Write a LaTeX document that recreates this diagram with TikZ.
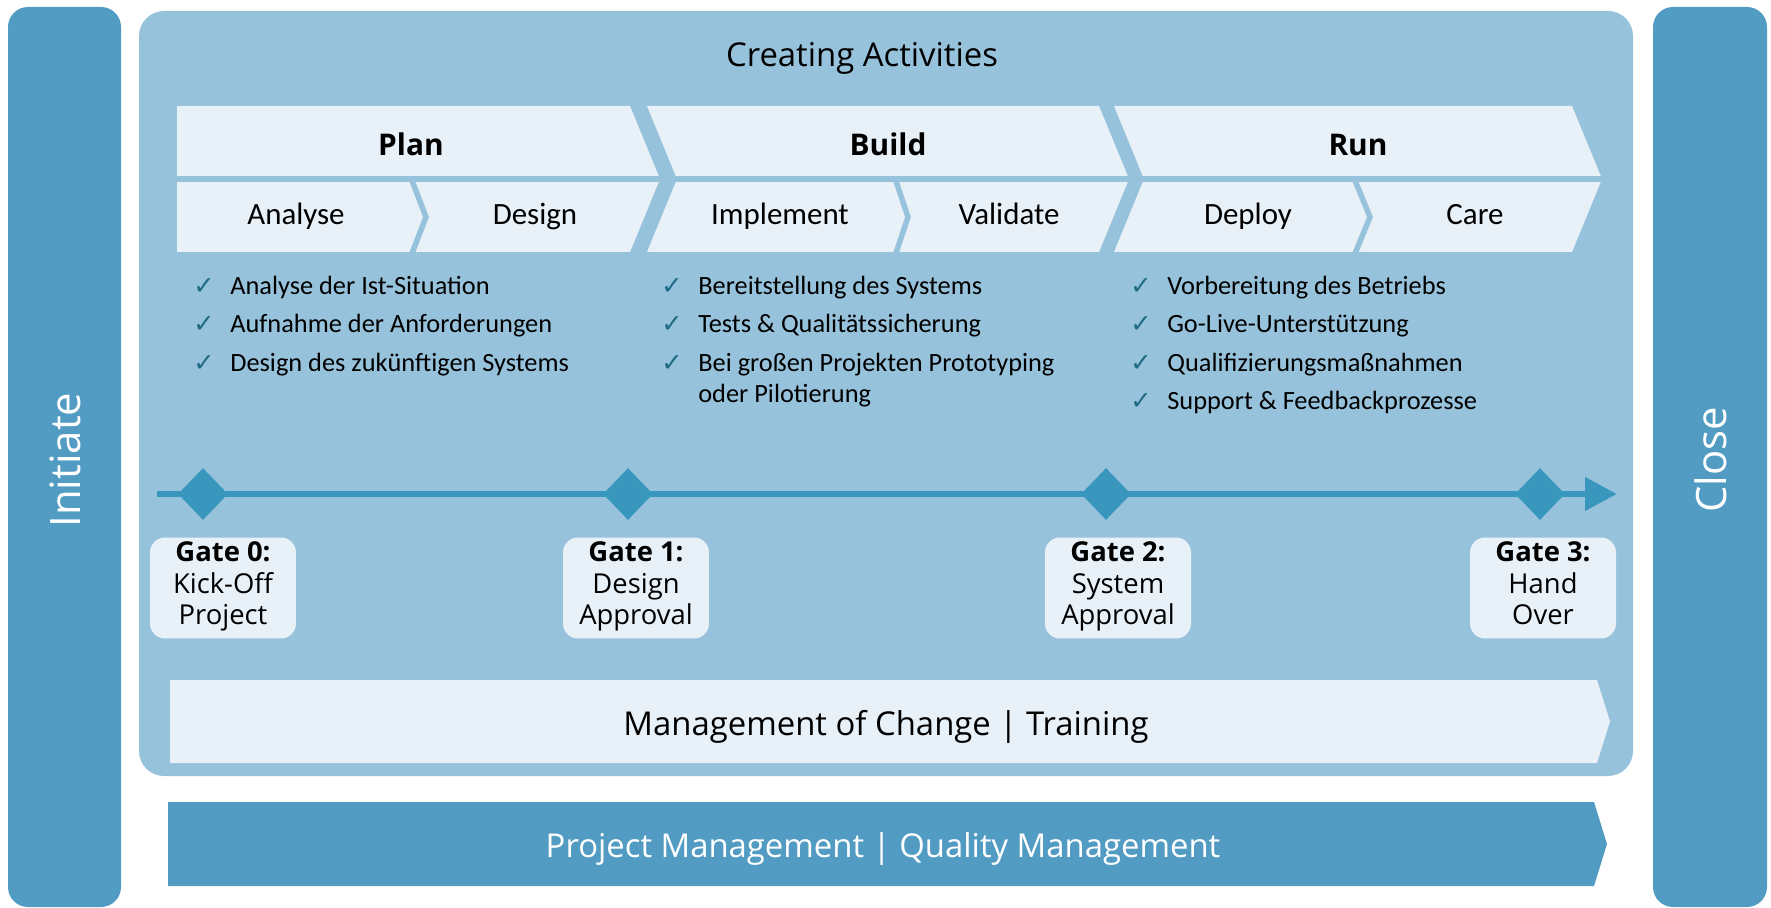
\documentclass[tikz,border=0pt]{standalone}
\usepackage{fontspec}
\setmainfont{Carlito}
\newfontfamily\opensans{Open Sans}
\newfontfamily\symfont{DejaVu Sans}
\usetikzlibrary{shapes.geometric,arrows.meta}

\definecolor{barblue}{RGB}{82,156,196}
\definecolor{boxblue}{RGB}{151,194,219}
\definecolor{paleblue}{RGB}{232,241,248}
\definecolor{lineblue}{RGB}{57,151,189}
\definecolor{checkteal}{RGB}{31,107,133}

\newcommand{\donemark}{\makebox[0.74cm][l]{\symfont\fontsize{14.5}{14.5}\selectfont\color{checkteal}✓}}

\begin{document}
\begin{tikzpicture}[x=0.02cm, y=-0.02cm,
  sidebar/.style={fill=barblue, rounded corners=0.4cm},
  sidelabel/.style={rotate=90, text=white, font=\opensans\fontsize{23.8}{28}\selectfont},
  banner/.style={anchor=base, inner sep=0, font=\opensans\fontsize{18.7}{22}\selectfont},
  phasetitle/.style={anchor=base, inner sep=0, font=\opensans\bfseries\fontsize{17}{20}\selectfont},
  substep/.style={anchor=base, inner sep=0, font=\fontsize{17.6}{21}\selectfont},
  item/.style={anchor=base west, inner sep=0, font=\fontsize{15}{17.6}\selectfont},
  milestone/.style={diamond, fill=lineblue, inner sep=0, minimum width=1cm, minimum height=1.04cm},
  gate/.style={fill=paleblue, rounded corners=0.3cm, minimum width=2.92cm, minimum height=2.02cm,
    align=center, inner sep=0, font=\opensans\fontsize{15.6}{18.1}\selectfont},
  timeline/.style={draw=lineblue, line width=0.14cm, -{Triangle[length=0.64cm, width=0.64cm]}},
  cut/.style={draw=boxblue, line width=0.11cm}]

  \useasboundingbox (0,0) rectangle (1771,908);

  % Frames
  \fill[sidebar] (8,7) rectangle (121,907);
  \fill[sidebar] (1653,7) rectangle (1767,907);
  \fill[boxblue, rounded corners=0.5cm] (139,11) rectangle (1633,776);

  % Phase chevrons
  \fill[paleblue] (177,106) -- (630,106) -- (660,179) -- (630,252) -- (177,252) -- cycle;
  \fill[paleblue] (647,106) -- (1099,106) -- (1129,179) -- (1099,252) -- (647,252) -- (677,179) -- cycle;
  \fill[paleblue] (1114,106) -- (1572,106) -- (1602,179) -- (1572,252) -- (1114,252) -- (1144,179) -- cycle;
  \fill[boxblue] (170,176) rectangle (1610,182);
  \draw[cut] (411,178) -- (426,217) -- (411,256);
  \draw[cut] (895,178) -- (908,217) -- (895,256);
  \draw[cut] (1354,178) -- (1370,217) -- (1354,256);

  % Bottom bands
  \fill[paleblue] (170,680) -- (1597,680) -- (1610,721.5) -- (1597,763) -- (170,763) -- cycle;
  \fill[barblue] (168,802) -- (1594,802) -- (1607,844) -- (1594,886) -- (168,886) -- cycle;

  % Define nodes
  \node (initiate) [sidelabel] at (65,460) {Initiate};
  \node (close) [sidelabel] at (1711,460) {Close};
  \node (creating) [banner] at (862,67) {Creating Activities};

  \node (plan) [phasetitle] at (411,156) {Plan};
  \node (build) [phasetitle] at (888,156) {Build};
  \node (run) [phasetitle] at (1358,156) {Run};

  \node (analyse) [substep] at (296,225) {Analyse};
  \node (design) [substep] at (535,225) {Design};
  \node (implement) [substep] at (780,225) {Implement};
  \node (validate) [substep] at (1009,225) {Validate};
  \node (deploy) [substep] at (1248,225) {Deploy};
  \node (care) [substep] at (1475,225) {Care};

  \node (plan1) [item] at (193,295) {\donemark Analyse der Ist-Situation};
  \node (plan2) [item] at (193,333) {\donemark Aufnahme der Anforderungen};
  \node (plan3) [item] at (193,372) {\donemark Design des zukünftigen Systems};

  \node (build1) [item] at (661,295) {\donemark Bereitstellung des Systems};
  \node (build2) [item] at (661,333) {\donemark Tests \& Qualitätssicherung};
  \node (build3) [item] at (661,372) {\donemark Bei großen Projekten Prototyping};
  \node (build4) [item] at (698,403) {oder Pilotierung};

  \node (run1) [item] at (1130,295) {\donemark Vorbereitung des Betriebs};
  \node (run2) [item] at (1130,333) {\donemark Go-Live-Unterstützung};
  \node (run3) [item] at (1130,372) {\donemark Qualifizierungsmaßnahmen};
  \node (run4) [item] at (1130,410) {\donemark Support \& Feedbackprozesse};

  % Timeline
  \coordinate (tlstart) at (157,494);
  \coordinate (tlend) at (1617,494);
  \draw [timeline] (tlstart) -- (tlend);

  \node (ms0) [milestone] at (203,494) {};
  \node (ms1) [milestone] at (628,494) {};
  \node (ms2) [milestone] at (1106,494) {};
  \node (ms3) [milestone] at (1540,494) {};

  \node (gate0) [gate] at (223,588) {\textbf{Gate 0:}\\Kick-Off\\Project\strut};
  \node (gate1) [gate] at (636,588) {\textbf{Gate 1:}\\Design\\Approval\strut};
  \node (gate2) [gate] at (1118,588) {\textbf{Gate 2:}\\System\\Approval\strut};
  \node (gate3) [gate] at (1543,588) {\textbf{Gate 3:}\\Hand\\Over\strut};

  \node (moc) [banner] at (886,735) {Management of Change | Training};
  \node (pm) [banner, text=white] at (883,857) {Project Management | Quality Management};
\end{tikzpicture}
\end{document}
